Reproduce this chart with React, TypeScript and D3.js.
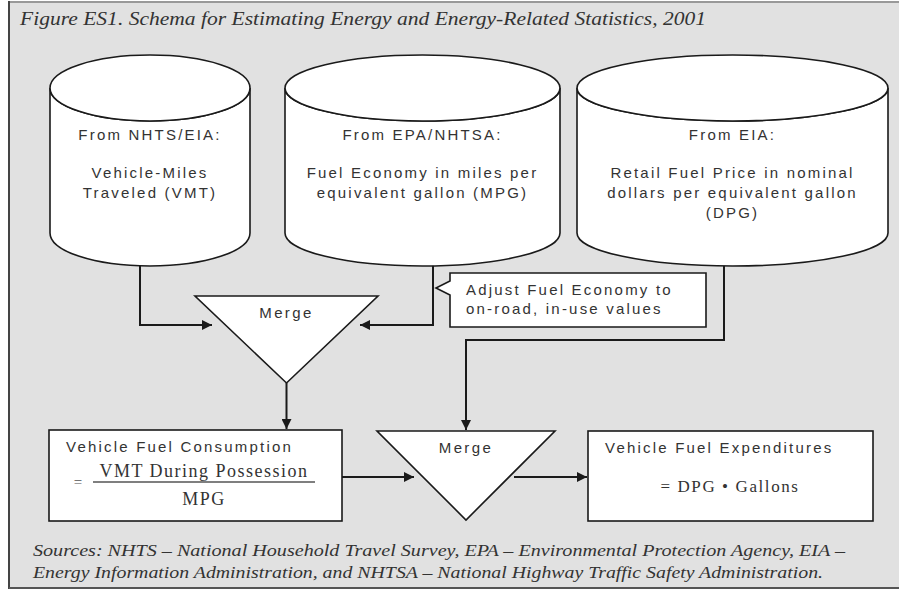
import React from 'react';
import * as d3 from 'd3';

// ---- text content ----
const title = 'Figure ES1. Schema for Estimating Energy and Energy-Related Statistics, 2001';
const sourceNames = ['From NHTS/EIA:', 'From EPA/NHTSA:', 'From EIA:'];
const sourceLines = [
  ['Vehicle-Miles', 'Traveled (VMT)'],
  ['Fuel Economy in miles per', 'equivalent gallon (MPG)'],
  ['Retail Fuel Price in nominal', 'dollars per equivalent gallon', '(DPG)'],
];
const adjustLines = ['Adjust Fuel Economy to', 'on-road, in-use values'];
const mergeLabel = 'Merge';
const consumption = { head: 'Vehicle Fuel Consumption', num: 'VMT During Possession', den: 'MPG' };
const expenditure = { head: 'Vehicle Fuel Expenditures', formula: '= DPG \u2022 Gallons' };
const footnotes = [
  'Sources: NHTS \u2013 National Household Travel Survey, EPA \u2013 Environmental Protection Agency, EIA \u2013',
  'Energy Information Administration, and NHTSA \u2013 National Highway Traffic Safety Administration.',
];
const footnoteWidths = [812, 790];

// ---- layout ----
const W = 899;
const H = 590;
const cylX: [number, number][] = [[50, 250], [285, 560], [577, 888]];
const cylTop = 88;
const cylBot = 233;
const cylRy = 33;
const merges = [
  { x0: 195, x1: 378, y0: 296, y1: 383 },
  { x0: 377, x1: 555, y0: 431, y1: 520 },
];
const boxL = { x: 49, y: 430, w: 293, h: 91 };
const boxR = { x: 588, y: 431, w: 285, h: 90 };

const sans = 'Arial, "Liberation Sans", Helvetica, sans-serif';
const serif = '"Times New Roman", "Liberation Serif", Times, serif';
const ink = '#1a1a1a';
const txt = '#333';
const fs = 15;
const ls = 2.2;

const line = d3.line<[number, number]>();

function Cylinder({ i }: { i: number }) {
  const [x0, x1] = cylX[i];
  const rx = (x1 - x0) / 2;
  const cx = (x0 + x1) / 2;
  const body = `M${x0},${cylTop} L${x0},${cylBot} A${rx},${cylRy} 0 0 0 ${x1},${cylBot} L${x1},${cylTop} A${rx},${cylRy} 0 0 1 ${x0},${cylTop} Z`;
  const lines = sourceLines[i];
  return (
    <g>
      <path d={body} fill="#fff" stroke={ink} strokeWidth={1.6} />
      <ellipse cx={cx} cy={cylTop} rx={rx} ry={cylRy} fill="#fff" stroke={ink} strokeWidth={1.6} />
      <text x={cx} y={140} textAnchor="middle" fontFamily={sans} fontSize={fs} letterSpacing={ls} fill={txt}>
        {sourceNames[i]}
      </text>
      {lines.map((t, j) => (
        <text key={j} x={cx} y={178 + j * 20} textAnchor="middle" fontFamily={sans} fontSize={fs} letterSpacing={ls} fill={txt}>
          {t}
        </text>
      ))}
    </g>
  );
}

function Merge({ m }: { m: { x0: number; x1: number; y0: number; y1: number } }) {
  const cx = (m.x0 + m.x1) / 2;
  const pts: [number, number][] = [[m.x0, m.y0], [m.x1, m.y0], [cx, m.y1]];
  return (
    <g>
      <path d={line(pts) + 'Z'} fill="#fff" stroke={ink} strokeWidth={1.6} />
      <text x={cx} y={m.y0 + 22} textAnchor="middle" fontFamily={sans} fontSize={fs} letterSpacing={2.4} fill={txt}>
        {mergeLabel}
      </text>
    </g>
  );
}

export default function App() {
  const m1cx = (merges[0].x0 + merges[0].x1) / 2;
  const m2cx = (merges[1].x0 + merges[1].x1) / 2;

  const connectors: [number, number][][] = [
    [[140, cylBot], [140, 325], [212, 325]],
    [[433, cylBot], [433, 325], [360, 325]],
    [[724, cylBot], [724, 340], [m2cx, 340], [m2cx, merges[1].y0 - 1]],
    [[m1cx, merges[0].y1], [m1cx, boxL.y - 1]],
    [[boxL.x + boxL.w, 477], [414, 477]],
    [[514, 477], [boxR.x - 1, 477]],
  ];

  const callout = 'M450,273 H706 V327 H450 V295 L436,288 L450,281 Z';
  const fracX0 = 93;
  const fracX1 = 315;
  const fracC = (fracX0 + fracX1) / 2;

  return (
    <svg width={W} height={H} style={{ position: 'absolute', left: 0, top: 0 }}>
      <defs>
        <marker id="arr" viewBox="0 0 10 10" refX={10} refY={5} markerWidth={5} markerHeight={5} orient="auto" markerUnits="strokeWidth">
          <path d="M0,0 L10,5 L0,10 Z" fill={ink} />
        </marker>
      </defs>
      <rect x={0} y={0} width={W} height={H} fill="#fff" />
      <rect x={9} y={2} width={W - 9} height={586} fill="#e1e1e1" />
      <line x1={9} x2={W} y1={2} y2={2} stroke="#999" strokeWidth={2} />
      <line x1={9} x2={9} y1={1} y2={589} stroke="#444" strokeWidth={2} />
      <line x1={9} x2={W} y1={588} y2={588} stroke="#555" strokeWidth={2} />

      <text x={20} y={25} fontFamily={serif} fontStyle="italic" fontSize={18} fill={txt} textLength={686} lengthAdjust="spacingAndGlyphs">
        {title}
      </text>

      {connectors.map((c, i) => (
        <path key={i} d={line(c) ?? ''} fill="none" stroke={ink} strokeWidth={2} markerEnd="url(#arr)" />
      ))}

      {cylX.map((_, i) => <Cylinder key={i} i={i} />)}

      <path d={callout} fill="#fff" stroke={ink} strokeWidth={1.6} />
      {adjustLines.map((t, j) => (
        <text key={j} x={466} y={295 + j * 19} fontFamily={sans} fontSize={fs} letterSpacing={ls} fill={txt}>
          {t}
        </text>
      ))}

      {merges.map((m, i) => <Merge key={i} m={m} />)}

      <rect x={boxL.x} y={boxL.y} width={boxL.w} height={boxL.h} fill="#fff" stroke={ink} strokeWidth={1.6} />
      <text x={66} y={452} fontFamily={sans} fontSize={fs} letterSpacing={ls} fill={txt}>
        {consumption.head}
      </text>
      <text x={78} y={487} fontFamily={serif} fontSize={15} textAnchor="middle" fill="#555">=</text>
      <text x={fracC} y={477} textAnchor="middle" fontFamily={serif} fontSize={18} letterSpacing={1.5} fill={txt}>
        {consumption.num}
      </text>
      <line x1={fracX0} x2={fracX1} y1={482} y2={482} stroke="#555" strokeWidth={1.5} />
      <text x={fracC} y={505} textAnchor="middle" fontFamily={serif} fontSize={18} letterSpacing={1.5} fill={txt}>
        {consumption.den}
      </text>

      <rect x={boxR.x} y={boxR.y} width={boxR.w} height={boxR.h} fill="#fff" stroke={ink} strokeWidth={1.6} />
      <text x={605} y={453} fontFamily={sans} fontSize={fs} letterSpacing={ls} fill={txt}>
        {expenditure.head}
      </text>
      <text x={730} y={492} textAnchor="middle" fontFamily={serif} fontSize={17} letterSpacing={1.6} fill={txt}>
        {expenditure.formula}
      </text>

      {footnotes.map((t, j) => (
        <text key={j} x={33} y={556 + j * 22} fontFamily={serif} fontStyle="italic" fontSize={16} fill={txt}
          textLength={footnoteWidths[j]} lengthAdjust="spacingAndGlyphs">
          {t}
        </text>
      ))}
    </svg>
  );
}
